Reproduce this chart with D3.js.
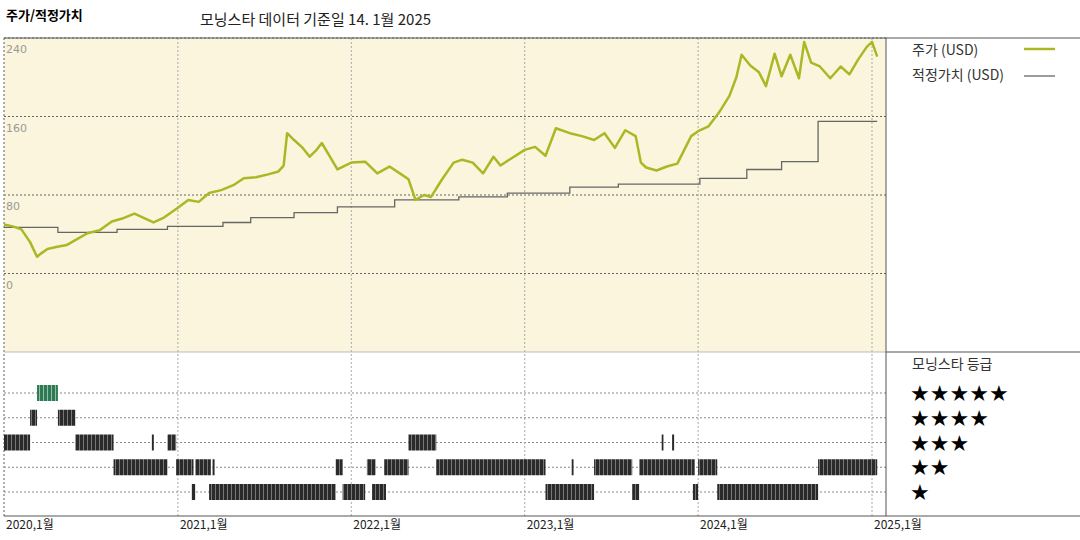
<!DOCTYPE html>
<html><head><meta charset="utf-8">
<script src="https://cdn.jsdelivr.net/npm/d3@7"></script>
<style>
body{margin:0;background:#fff;font-family:"Noto Sans CJK KR","DejaVu Sans",sans-serif;}
</style></head>
<body><svg id="chart" width="1080" height="540"></svg>
<script>
// decimal years
var priceYears = [2020.00,2020.05,2020.10,2020.15,2020.19,2020.21,2020.25,2020.30,2020.36,2020.42,2020.48,2020.55,2020.62,2020.68,2020.75,2020.80,2020.86,2020.92,2021.00,2021.06,2021.12,2021.18,2021.25,2021.32,2021.38,2021.45,2021.52,2021.58,2021.61,2021.63,2021.67,2021.72,2021.76,2021.80,2021.83,2021.88,2021.92,2022.00,2022.08,2022.15,2022.22,2022.28,2022.33,2022.37,2022.42,2022.46,2022.52,2022.59,2022.64,2022.70,2022.76,2022.82,2022.86,2022.92,2023.00,2023.06,2023.12,2023.18,2023.26,2023.33,2023.40,2023.46,2023.52,2023.58,2023.64,2023.67,2023.70,2023.76,2023.82,2023.88,2023.96,2024.00,2024.06,2024.12,2024.18,2024.22,2024.25,2024.30,2024.35,2024.39,2024.44,2024.48,2024.53,2024.58,2024.61,2024.65,2024.70,2024.76,2024.82,2024.87,2024.92,2024.97,2025.00,2025.03];
var priceValues = [50,48,45,32,17,20,25,27,29,35,41,44,53,56,61,57,52,57,67,75,73,82,85,90,97,98,101,104,110,143,136,128,119,126,133,118,106,113,114,102,109,102,96,75,80,78,95,113,116,113,102,119,110,117,126,129,120,148,143,140,136,143,128,146,140,113,108,105,109,112,140,145,150,164,181,200,223,212,205,191,224,201,223,199,236,215,211,199,211,203,218,231,236,221];
var fairYears = [2020.00,2020.31,2020.65,2020.94,2021.26,2021.42,2021.67,2021.92,2022.25,2022.62,2022.90,2023.26,2023.54,2024.01,2024.28,2024.48,2024.69,2025.03];
var fairValues = [47,42,45,48,52,57,62,68,75,78,82,88,91,97,106,114,155,155];
var yTicks = [0, 80, 160, 240];
var xTickYears = [2020, 2021, 2022, 2023, 2024, 2025];
var ratingRows = [5, 4, 3, 2, 1];
// [rating, startYear, endYear]
var ratingSpans = [
  [5,2020.19,2020.31],
  [4,2020.15,2020.19],[4,2020.31,2020.41],
  [3,2020.00,2020.15],[3,2020.41,2020.63],[3,2020.85,2020.86],[3,2020.94,2020.99],[3,2022.33,2022.49],[3,2023.79,2023.80],[3,2023.85,2023.86],
  [2,2020.63,2020.94],[2,2020.99,2021.09],[2,2021.10,2021.19],[2,2021.20,2021.21],[2,2021.91,2021.95],[2,2022.09,2022.14],[2,2022.19,2022.33],[2,2022.49,2023.12],[2,2023.27,2023.28],[2,2023.40,2023.62],[2,2023.66,2023.98],[2,2024.00,2024.11],[2,2024.69,2025.03],
  [1,2021.08,2021.10],[1,2021.18,2021.91],[1,2021.95,2022.08],[1,2022.12,2022.20],[1,2023.12,2023.40],[1,2023.62,2023.66],[1,2023.97,2024.00],[1,2024.11,2024.69]
];

function toDate(y) {
  var yr = Math.floor(y);
  var s = new Date(yr, 0, 1), e = new Date(yr + 1, 0, 1);
  return new Date(+s + (y - yr) * (e - s));
}

(function () {
  var svg = d3.select("#chart");
  var left = 4, right = 886, topY = 38, mid = 352, bottom = 516;

  var x = d3.scaleTime().domain([new Date(2020,0,1), new Date(2025,0,1)]).range([4, 872]);
  var y = d3.scaleLinear().domain([-80, 240]).range([mid, topY]);
  var yr = d3.scalePoint().domain(ratingRows).range([393, 492]);

  // stripe patterns
  var defs = svg.append("defs");
  function stripes(id, a, b) {
    var p = defs.append("pattern").attr("id", id).attr("patternUnits", "userSpaceOnUse")
      .attr("width", 4).attr("height", 10);
    p.append("rect").attr("width", 4).attr("height", 10).attr("fill", a);
    p.append("rect").attr("x", 3).attr("width", 1).attr("height", 10).attr("fill", b);
  }
  stripes("darkStripe", "#2a2a2a", "#777");
  stripes("greenStripe", "#2f7a55", "#8fc2a5");

  svg.append("rect").attr("x", left).attr("y", topY).attr("width", right - left).attr("height", mid - topY).attr("fill", "#faf5dc");

  function gline(x1, y1, x2, y2, c) {
    svg.append("line").attr("x1", x1).attr("y1", y1).attr("x2", x2).attr("y2", y2)
      .attr("stroke", c || "#888").attr("stroke-width", 1).attr("stroke-dasharray", "2,2");
  }
  yTicks.forEach(function (t) { gline(left, y(t), right, y(t), "#666"); });
  ratingRows.forEach(function (r) { gline(left, yr(r), right, yr(r)); });
  xTickYears.forEach(function (t) { gline(x(new Date(t,0,1)), topY, x(new Date(t,0,1)), bottom, "#aaa"); });
  gline(left, topY, left, bottom, "#888");
  svg.append("line").attr("x1", left).attr("x2", right).attr("y1", mid).attr("y2", mid).attr("stroke", "#bbb");

  yTicks.forEach(function (t) {
    svg.append("text").attr("x", 6).attr("y", y(t) + 15).attr("font-size", 11)
      .attr("font-family", "DejaVu Sans").attr("fill", "#999").text(t);
  });

  // fair value step line
  var fair = fairYears.map(function (d, i) { return { d: toDate(d), v: fairValues[i] }; });
  svg.append("path").datum(fair).attr("fill", "none").attr("stroke", "#666").attr("stroke-width", 1.3)
    .attr("d", d3.line().curve(d3.curveStepAfter).x(function (d) { return x(d.d); }).y(function (d) { return y(d.v); }));

  var price = priceYears.map(function (d, i) { return { d: toDate(d), v: priceValues[i] }; });
  svg.append("path").datum(price).attr("fill", "none").attr("stroke", "#a9b824").attr("stroke-width", 2.5)
    .attr("stroke-linejoin", "round")
    .attr("d", d3.line().x(function (d) { return x(d.d); }).y(function (d) { return y(d.v); }));

  // rating bars
  svg.selectAll(".rating").data(ratingSpans).enter().append("rect")
    .attr("x", function (d) { return x(toDate(d[1])); })
    .attr("width", function (d) { return Math.max(2, x(toDate(d[2])) - x(toDate(d[1]))); })
    .attr("y", function (d) { return yr(d[0]) - 8; })
    .attr("height", 16)
    .attr("fill", function (d) { return d[0] === 5 ? "url(#greenStripe)" : "url(#darkStripe)"; });

  // frame
  svg.append("line").attr("x1", left).attr("x2", 1080).attr("y1", topY).attr("y2", topY).attr("stroke", "#555");
  svg.append("line").attr("x1", right).attr("x2", 1080).attr("y1", mid).attr("y2", mid).attr("stroke", "#555");
  svg.append("line").attr("x1", right).attr("x2", right).attr("y1", topY).attr("y2", bottom).attr("stroke", "#555");
  svg.append("line").attr("x1", left).attr("x2", 1080).attr("y1", bottom).attr("y2", bottom).attr("stroke", "#555");

  xTickYears.forEach(function (t) {
    svg.append("text").attr("x", x(new Date(t,0,1)) + 2).attr("y", 529).attr("font-size", 12)
      .attr("fill", "#222").text(t + ",1월");
  });

  svg.append("text").attr("x", 6).attr("y", 20).attr("font-size", 13).attr("font-weight", "bold").text("주가/적정가치");
  svg.append("text").attr("x", 200).attr("y", 25).attr("font-size", 15).attr("fill", "#222").text("모닝스타 데이터 기준일 14. 1월 2025");

  svg.append("text").attr("x", 912).attr("y", 55).attr("font-size", 14).attr("fill", "#333").text("주가 (USD)");
  svg.append("line").attr("x1", 1024).attr("x2", 1055).attr("y1", 49).attr("y2", 49).attr("stroke", "#a9b824").attr("stroke-width", 2.5);
  svg.append("text").attr("x", 912).attr("y", 80).attr("font-size", 14).attr("fill", "#333").text("적정가치 (USD)");
  svg.append("line").attr("x1", 1024).attr("x2", 1055).attr("y1", 76).attr("y2", 76).attr("stroke", "#666").attr("stroke-width", 1.3);
  svg.append("text").attr("x", 912).attr("y", 369).attr("font-size", 14).attr("fill", "#333").text("모닝스타 등급");
  ratingRows.forEach(function (r) {
    svg.append("text").attr("x", 910).attr("y", yr(r) + 8).attr("font-size", 22).attr("font-family", "DejaVu Sans")
      .text(d3.range(r).map(function () { return "★"; }).join(""));
  });
})();
</script></body></html>
